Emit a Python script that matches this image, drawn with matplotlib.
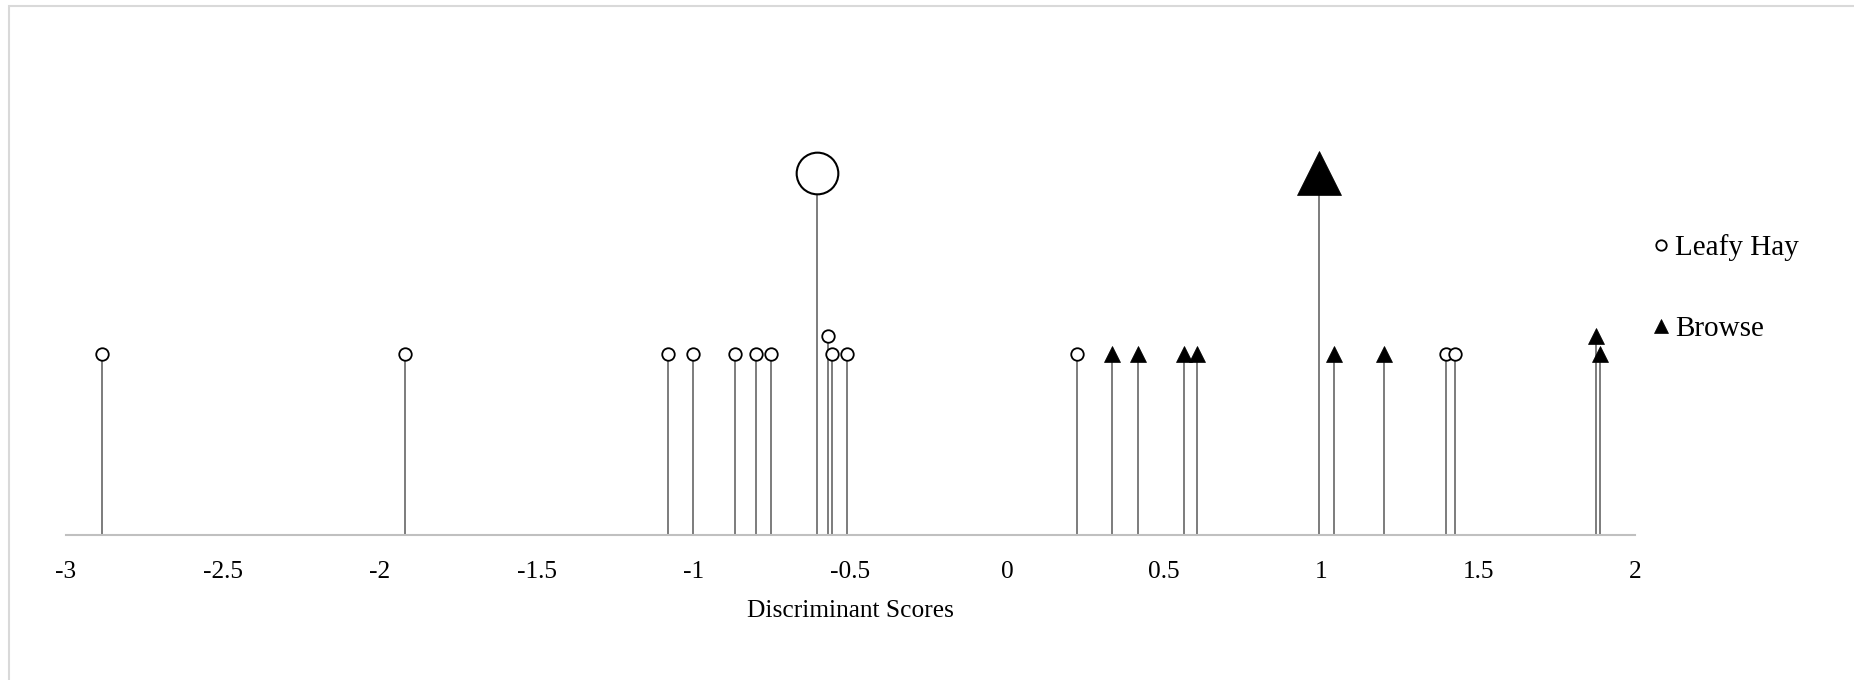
import matplotlib
matplotlib.use("Agg")
import matplotlib.pyplot as plt
from matplotlib.lines import Line2D
from matplotlib.patches import Rectangle

plt.rcParams['font.family'] = ['Liberation Serif', 'DejaVu Serif']
plt.rcParams['axes.unicode_minus'] = False

# Data
hay_scores = [-2.885, -1.921, -1.080, -1.001, -0.869, -0.802, -0.753, -0.572,
              -0.558, -0.511, 0.223, 1.397, 1.425]
hay_levels = [1, 1, 1, 1, 1, 1, 1, 1.1, 1, 1, 1, 1, 1]
browse_scores = [0.334, 0.417, 0.5625, 0.604, 1.041, 1.199, 1.877, 1.890]
browse_levels = [1, 1, 1, 1, 1, 1, 1.1, 1]
hay_centroid = [-0.607]
browse_centroid = [0.9915]
centroid_level = [2.0]
xticks = [-3, -2.5, -2, -1.5, -1, -0.5, 0, 0.5, 1, 1.5, 2]
xticklabels = ["-3", "-2.5", "-2", "-1.5", "-1", "-0.5", "0", "0.5", "1", "1.5", "2"]
series_names = ["Leafy Hay", "Browse"]
xlabel = "Discriminant Scores"

W, H = 1854, 680
fig = plt.figure(figsize=(W / 100, H / 100), dpi=100)
ax_left, ax_right = 66 / W, 1635 / W
ax_bottom = (H - 535) / H
ax_top = (H - 82.5) / H
ax = fig.add_axes([ax_left, ax_bottom, ax_right - ax_left, ax_top - ax_bottom])
ax.set_xlim(-3, 2)
ax.set_ylim(0, 2.5)

stem_color = "#595959"
ax.vlines(hay_scores, 0, hay_levels, color=stem_color, lw=1.1, zorder=2)
ax.vlines(browse_scores, 0, browse_levels, color=stem_color, lw=1.1, zorder=2)
ax.vlines(hay_centroid, 0, centroid_level, color=stem_color, lw=1.1, zorder=2)
ax.vlines(browse_centroid, 0, centroid_level, color=stem_color, lw=1.1, zorder=2)

ax.plot(hay_scores, hay_levels, linestyle='none', marker='o', ms=9,
        mfc='white', mec='black', mew=1.3, zorder=4)
ax.plot(browse_scores, browse_levels, linestyle='none', marker='^', ms=11,
        mfc='black', mec='black', mew=0.5, zorder=4)
ax.plot(hay_centroid, centroid_level, linestyle='none', marker='o', ms=30,
        mfc='white', mec='black', mew=1.5, zorder=4)
ax.plot(browse_centroid, centroid_level, linestyle='none', marker='^', ms=31,
        mfc='black', mec='black', mew=0.5, zorder=4)

for s in ['top', 'right', 'left']:
    ax.spines[s].set_visible(False)
ax.spines['bottom'].set_color('#c0c0c0')
ax.spines['bottom'].set_linewidth(1.5)
ax.set_yticks([])
ax.set_xticks(xticks)
ax.set_xticklabels(xticklabels, fontsize=18.3)
ax.tick_params(axis='x', length=0, pad=18.5)
ax.set_xlabel(xlabel, fontsize=18.3, labelpad=12.5)

handles = [
    Line2D([], [], linestyle='none', marker='o', ms=7.5, mfc='white', mec='black', mew=1.3),
    Line2D([], [], linestyle='none', marker='^', ms=9.5, mfc='black', mec='black', mew=0.5),
]
leg = fig.legend(handles, series_names, loc='upper left',
                 bbox_to_anchor=(1652 / W, (H - 234) / H), frameon=False,
                 fontsize=21, handlelength=0.6, handletextpad=0.18,
                 labelspacing=1.88, borderpad=0, borderaxespad=0)

border = Rectangle((8.5 / W, -1), 2, (H - 5.5) / H + 1,
                   transform=fig.transFigure, fill=False,
                   edgecolor='#d9d9d9', lw=1.5)
fig.patches.append(border)

fig.savefig("out.png", dpi=100, facecolor='white')
